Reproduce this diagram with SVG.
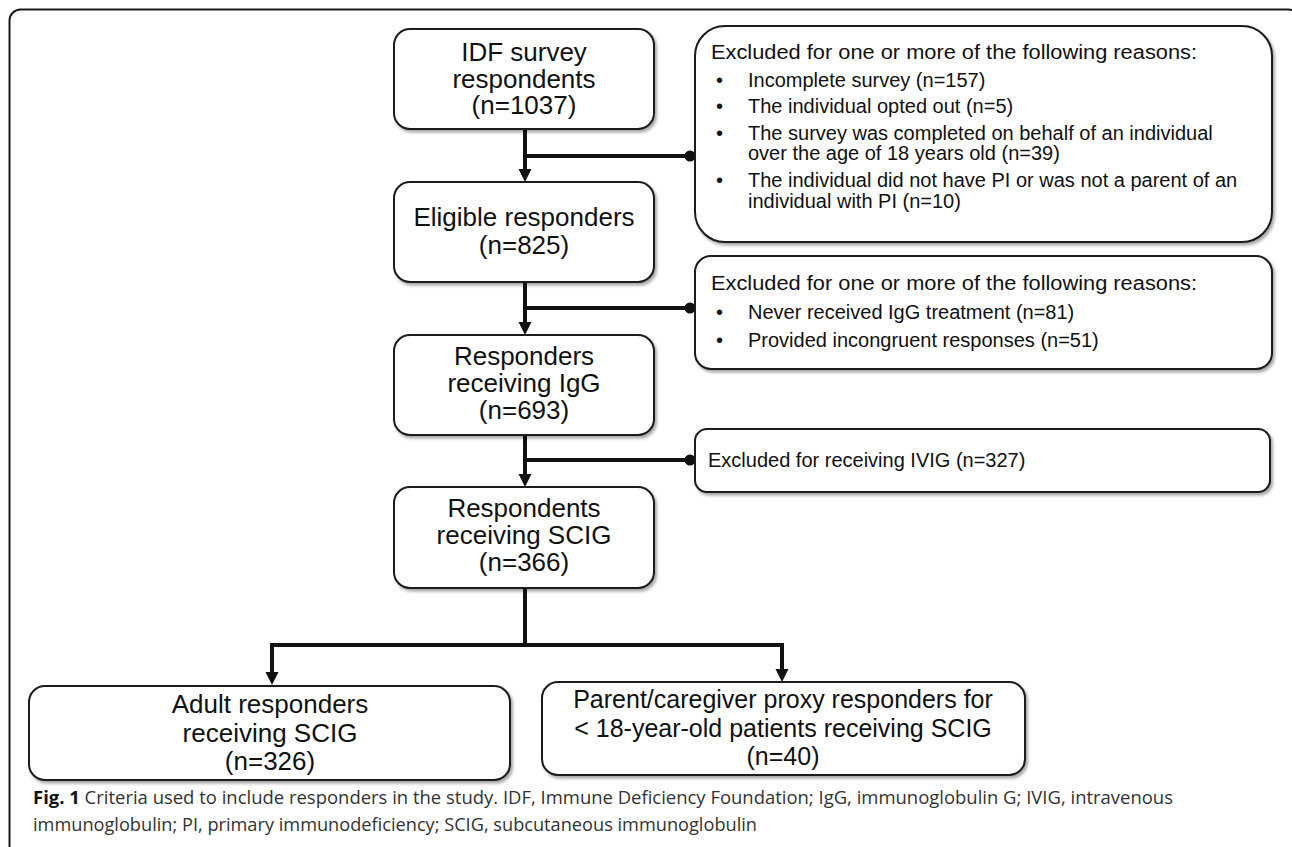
<svg xmlns="http://www.w3.org/2000/svg" width="1292" height="847" viewBox="0 0 1292 847">
<style>
.box{fill:#fff;stroke:#1a1a1a;stroke-width:2;filter:url(#sh)}
.t{font-family:"Liberation Sans",Arial,sans-serif;font-size:26px;fill:#111;text-anchor:middle}
.s{font-family:"Liberation Sans",Arial,sans-serif;font-size:20px;fill:#111}
.ln{fill:none;stroke:#111;stroke-width:4}
.cap{font-family:"Open Sans","Noto Sans",sans-serif;font-size:18px;fill:#333}
</style>
<defs>
<filter id="sh" x="-5%" y="-5%" width="115%" height="120%">
<feDropShadow dx="2" dy="2.5" stdDeviation="1.5" flood-color="#000" flood-opacity="0.35"/>
</filter>
</defs>
<rect x="9.5" y="9.5" width="1290" height="900" rx="11" fill="#fff" stroke="#1a1a1a" stroke-width="2"/>

<g id="connectors">
<path class="ln" d="M525,130 V170"/>
<path d="M518.5,169 L531.5,169 L525,182 Z" fill="#111"/>
<path class="ln" d="M525,156 H690"/>
<circle cx="690" cy="156" r="5.5" fill="#111"/>
<path class="ln" d="M525,283 V323"/>
<path d="M518.5,322 L531.5,322 L525,335 Z" fill="#111"/>
<path class="ln" d="M525,308 H690"/>
<circle cx="690" cy="308" r="5.5" fill="#111"/>
<path class="ln" d="M525,436 V475"/>
<path d="M518.5,474 L531.5,474 L525,487 Z" fill="#111"/>
<path class="ln" d="M525,460 H690"/>
<circle cx="690" cy="460" r="5.5" fill="#111"/>
<path class="ln" d="M525,589 V645"/>
<path class="ln" d="M272,673 V645 H782 V670"/>
<path d="M265.5,672 L278.5,672 L272,685 Z" fill="#111"/>
<path d="M775.5,669 L788.5,669 L782,682 Z" fill="#111"/>
</g>

<g id="n1">
<rect class="box" x="394" y="29" width="260" height="100" rx="16"/>
<text class="t" x="524" y="61">IDF survey</text>
<text class="t" x="524" y="88">respondents</text>
<text class="t" x="524" y="114">(n=1037)</text>
</g>
<g id="n2">
<rect class="box" x="394" y="182" width="260" height="100" rx="16"/>
<text class="t" x="524" y="226">Eligible responders</text>
<text class="t" x="524" y="254">(n=825)</text>
</g>
<g id="n3">
<rect class="box" x="394" y="335" width="260" height="100" rx="16"/>
<text class="t" x="524" y="365">Responders</text>
<text class="t" x="524" y="392">receiving IgG</text>
<text class="t" x="524" y="419">(n=693)</text>
</g>
<g id="n4">
<rect class="box" x="394" y="487" width="260" height="101" rx="16"/>
<text class="t" x="524" y="517">Respondents</text>
<text class="t" x="524" y="544">receiving SCIG</text>
<text class="t" x="524" y="571">(n=366)</text>
</g>

<g id="ex1">
<rect class="box" x="695" y="26" width="577" height="216" rx="30"/>
<text class="s" x="711" y="59" textLength="486" lengthAdjust="spacingAndGlyphs">Excluded for one or more of the following reasons:</text>
<text class="s" x="716" y="87">•</text><text class="s" x="748" y="87">Incomplete survey (n=157)</text>
<text class="s" x="716" y="113">•</text><text class="s" x="748" y="113">The individual opted out (n=5)</text>
<text class="s" x="716" y="140">•</text><text class="s" x="748" y="140">The survey was completed on behalf of an individual</text>
<text class="s" x="748" y="160">over the age of 18 years old (n=39)</text>
<text class="s" x="716" y="187">•</text><text class="s" x="748" y="187">The individual did not have PI or was not a parent of an</text>
<text class="s" x="748" y="208">individual with PI (n=10)</text>
</g>
<g id="ex2">
<rect class="box" x="695" y="256" width="577" height="113" rx="16"/>
<text class="s" x="711" y="290" textLength="486" lengthAdjust="spacingAndGlyphs">Excluded for one or more of the following reasons:</text>
<text class="s" x="716" y="319">•</text><text class="s" x="748" y="319">Never received IgG treatment (n=81)</text>
<text class="s" x="716" y="347">•</text><text class="s" x="748" y="347">Provided incongruent responses (n=51)</text>
</g>
<g id="ex3">
<rect class="box" x="695" y="429" width="575" height="63" rx="12"/>
<text class="s" x="708" y="467">Excluded for receiving IVIG (n=327)</text>
</g>

<g id="n5">
<rect class="box" x="29" y="686" width="481" height="94" rx="16"/>
<text class="t" x="270" y="713">Adult responders</text>
<text class="t" x="270" y="742">receiving SCIG</text>
<text class="t" x="270" y="770">(n=326)</text>
</g>
<g id="n6">
<rect class="box" x="542" y="682" width="483" height="93" rx="16"/>
<text class="t" x="783" y="708" style="font-size:25px">Parent/caregiver proxy responders for</text>
<text class="t" x="783" y="737" style="font-size:25px">&lt; 18-year-old patients receiving SCIG</text>
<text class="t" x="783" y="765" style="font-size:25px">(n=40)</text>
</g>

<text class="cap" x="33" y="804" textLength="1140" lengthAdjust="spacingAndGlyphs"><tspan font-weight="bold" fill="#111">Fig. 1</tspan> Criteria used to include responders in the study. IDF, Immune Deficiency Foundation; IgG, immunoglobulin G; IVIG, intravenous</text>
<text class="cap" x="33" y="831" textLength="724" lengthAdjust="spacingAndGlyphs">immunoglobulin; PI, primary immunodeficiency; SCIG, subcutaneous immunoglobulin</text>
</svg>
